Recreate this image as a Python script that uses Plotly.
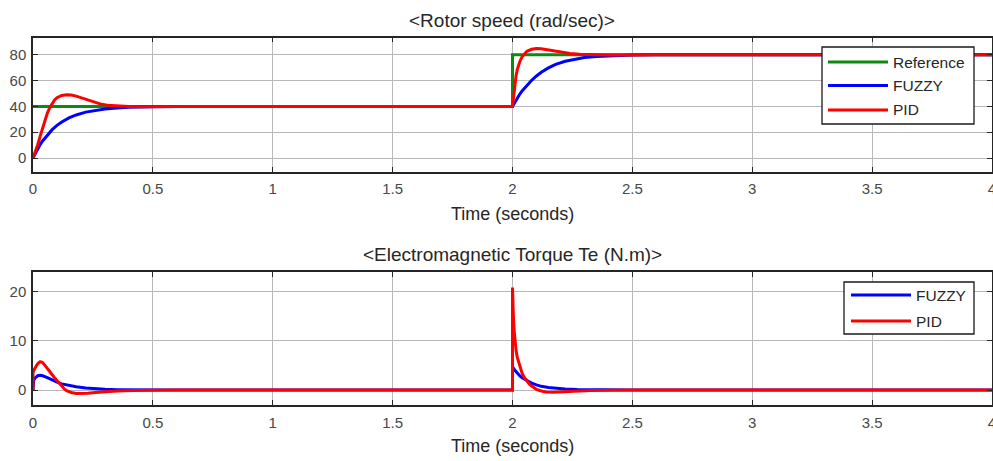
import plotly.graph_objects as go

# ---- Rotor speed (rad/sec) ----
t_ref = [0.0, 2.0, 2.0, 4.0]
ref_speed = [40, 40, 80, 80]

t_fuzzy_speed = [0.0, 0.01, 0.02, 0.03, 0.04, 0.06, 0.08, 0.10, 0.12, 0.15, 0.18, 0.22,
                 0.26, 0.30, 0.35, 0.40, 0.50, 0.60,
                 2.0, 2.01, 2.02, 2.03, 2.04, 2.06, 2.08, 2.10, 2.12, 2.15, 2.18, 2.22,
                 2.26, 2.30, 2.35, 2.40, 2.50, 2.60, 4.0]
fuzzy_speed = [0.0, 3.8, 7.3, 10.4, 13.2, 18.0, 22.0, 25.3, 28.0, 31.1, 33.4, 35.6,
               37.0, 38.0, 38.8, 39.3, 39.7, 40.0,
               40.0, 43.5, 46.6, 49.4, 52.0, 56.5, 60.3, 63.6, 66.5, 69.9, 72.6, 75.0,
               76.7, 77.9, 78.8, 79.3, 79.8, 80.0, 80.0]

t_pid_speed = [0.0, 0.01, 0.02, 0.03, 0.04, 0.05, 0.06, 0.07, 0.08, 0.09, 0.10, 0.12,
               0.14, 0.16, 0.18, 0.20, 0.22, 0.25, 0.28, 0.31, 0.35, 0.40, 0.45, 0.50, 0.60,
               2.0, 2.005, 2.01, 2.015, 2.02, 2.03, 2.04, 2.05, 2.06, 2.08, 2.10, 2.12,
               2.14, 2.17, 2.20, 2.24, 2.28, 2.33, 2.40, 2.50, 2.60, 4.0]
pid_speed = [0.0, 4.5, 10.5, 17.0, 23.5, 29.5, 34.8, 39.0, 42.5, 45.0, 46.8, 48.5,
             49.1, 48.9, 48.0, 46.8, 45.4, 43.5, 42.0, 41.0, 40.3, 39.9, 39.8, 39.9, 40.0,
             40.0, 50.0, 58.0, 64.0, 68.5, 74.5, 78.5, 81.0, 82.7, 84.3, 84.9, 84.8,
             84.2, 83.2, 82.2, 81.1, 80.4, 80.0, 79.8, 79.9, 80.0, 80.0]

# ---- Electromagnetic torque Te (N.m) ----
t_fuzzy_te = [0.0, 0.003, 0.01, 0.02, 0.03, 0.04, 0.06, 0.08, 0.10, 0.12, 0.15, 0.18,
              0.22, 0.26, 0.30, 0.35, 0.45, 0.60,
              2.0, 2.0, 2.01, 2.02, 2.03, 2.04, 2.06, 2.08, 2.10, 2.12, 2.15, 2.18,
              2.22, 2.27, 2.33, 2.40, 2.50, 4.0]
fuzzy_te = [0.0, 2.0, 2.5, 2.9, 3.0, 2.9, 2.5, 2.0, 1.6, 1.25, 0.9, 0.65,
            0.4, 0.25, 0.15, 0.08, 0.02, 0.0,
            0.0, 4.7, 4.0, 3.4, 2.9, 2.5, 1.9, 1.4, 1.05, 0.75, 0.5, 0.33,
            0.2, 0.1, 0.05, 0.02, 0.0, 0.0]

t_pid_te = [0.0, 0.0, 0.01, 0.02, 0.03, 0.04, 0.05, 0.06, 0.07, 0.08, 0.09, 0.10, 0.11,
            0.12, 0.13, 0.14, 0.16, 0.18, 0.20, 0.23, 0.26, 0.30, 0.35, 0.42, 0.50, 0.60,
            2.0, 2.0, 2.003, 2.006, 2.01, 2.015, 2.02, 2.03, 2.04, 2.05, 2.06, 2.07,
            2.08, 2.09, 2.10, 2.12, 2.14, 2.17, 2.20, 2.24, 2.28, 2.33, 2.40, 2.50, 2.60, 4.0]
pid_te = [0.0, 3.6, 4.6, 5.4, 5.75, 5.6, 5.0, 4.3, 3.7, 3.1, 2.5, 1.9, 1.4,
          0.8, 0.25, -0.15, -0.5, -0.68, -0.72, -0.65, -0.52, -0.36, -0.22, -0.1, -0.03, 0.0,
          0.0, 20.8, 16.0, 12.5, 9.8, 8.0, 6.6, 4.7, 3.4, 2.5, 1.8, 1.25,
          0.8, 0.45, 0.15, -0.2, -0.38, -0.45, -0.42, -0.32, -0.22, -0.12, -0.05, -0.01, 0.0, 0.0]

x_ticks = [0, 0.5, 1, 1.5, 2, 2.5, 3, 3.5, 4]
x_tick_text = ["0", "0.5", "1", "1.5", "2", "2.5", "3", "3.5", "4"]
speed_ticks = [0, 20, 40, 60, 80]
torque_ticks = [0, 10, 20]

GREEN = "#0d8a12"
BLUE = "#0000ff"
RED = "#ff0000"
W, H = 993, 461
FONT = "Liberation Sans, Arial, sans-serif"


def px(x):
    return x / W


def py(y):
    return 1 - y / H


fig = go.Figure()
fig.add_trace(go.Scatter(x=t_ref, y=ref_speed, name="Reference", mode="lines",
                         line=dict(color=GREEN, width=3), xaxis="x", yaxis="y"))
fig.add_trace(go.Scatter(x=t_fuzzy_speed, y=fuzzy_speed, name="FUZZY", mode="lines",
                         line=dict(color=BLUE, width=3), xaxis="x", yaxis="y"))
fig.add_trace(go.Scatter(x=t_pid_speed, y=pid_speed, name="PID", mode="lines",
                         line=dict(color=RED, width=3), xaxis="x", yaxis="y"))
fig.add_trace(go.Scatter(x=t_fuzzy_te, y=fuzzy_te, name="FUZZY", mode="lines",
                         line=dict(color=BLUE, width=3), xaxis="x2", yaxis="y2"))
fig.add_trace(go.Scatter(x=t_pid_te, y=pid_te, name="PID", mode="lines",
                         line=dict(color=RED, width=3), xaxis="x2", yaxis="y2"))

axis_common = dict(
    showgrid=True, gridcolor="#b8b8b8", gridwidth=1.3,
    showline=True, linecolor="#262626", linewidth=1.5, mirror="ticks",
    ticks="inside", ticklen=5, tickcolor="#262626", tickwidth=1.3, zeroline=False,
    tickfont=dict(family=FONT, size=15, color="#484848"),
    ticklabeloverflow="allow",
    automargin=False, fixedrange=True,
)

x_dom = [px(33), px(992)]
fig.update_layout(
    width=W, height=H,
    margin=dict(l=0, r=0, t=0, b=0),
    paper_bgcolor="white", plot_bgcolor="white",
    showlegend=False,
    xaxis=dict(domain=x_dom, range=[0, 4], tickvals=x_ticks, ticktext=x_tick_text,
               anchor="y", ticklabelstandoff=3, **axis_common),
    yaxis=dict(domain=[py(171.7), py(37.7)], range=[-10.6, 93.3], tickvals=speed_ticks,
               anchor="x", ticklabelstandoff=2, **axis_common),
    xaxis2=dict(domain=x_dom, range=[0, 4], tickvals=x_ticks, ticktext=x_tick_text,
                anchor="y2", ticklabelstandoff=3, **axis_common),
    yaxis2=dict(domain=[py(405), py(272.3)], range=[-3.04, 23.9], tickvals=torque_ticks,
                anchor="x2", ticklabelstandoff=2, **axis_common),
)

# Titles and axis labels
texts = [
    ("&lt;Rotor speed (rad/sec)&gt;", 512, 20, 19),
    ("Time (seconds)", 512, 214, 18),
    ("&lt;Electromagnetic Torque Te (N.m)&gt;", 512, 254, 19),
    ("Time (seconds)", 512, 446, 18),
]
for txt, cx, cy, size in texts:
    fig.add_annotation(text=txt, x=px(cx), y=py(cy), xref="paper", yref="paper",
                       showarrow=False, xanchor="center", yanchor="middle",
                       font=dict(family=FONT, size=size, color="#262626"))


# Legend boxes in the Simulink scope style
def legend_box(x0, y0, x1, y1, entries, line_x0, line_x1, text_x):
    fig.add_shape(type="rect", xref="paper", yref="paper",
                  x0=px(x0), x1=px(x1), y0=py(y1), y1=py(y0),
                  line=dict(color="#1a1a1a", width=1.3), fillcolor="white", layer="above")
    for label, color, ry in entries:
        fig.add_shape(type="line", xref="paper", yref="paper",
                      x0=px(line_x0), x1=px(line_x1), y0=py(ry), y1=py(ry),
                      line=dict(color=color, width=3), layer="above")
        fig.add_annotation(text=label, x=px(text_x), y=py(ry), xref="paper", yref="paper",
                           showarrow=False, xanchor="left", yanchor="middle",
                           font=dict(family=FONT, size=15.5, color="#262626"))


legend_box(822, 47, 974, 124,
           [("Reference", GREEN, 62), ("FUZZY", BLUE, 85.5), ("PID", RED, 110)],
           828, 888, 891)
legend_box(844, 282, 974, 334,
           [("FUZZY", BLUE, 295), ("PID", RED, 321)],
           851, 911, 914)

fig.write_html("out.html")
